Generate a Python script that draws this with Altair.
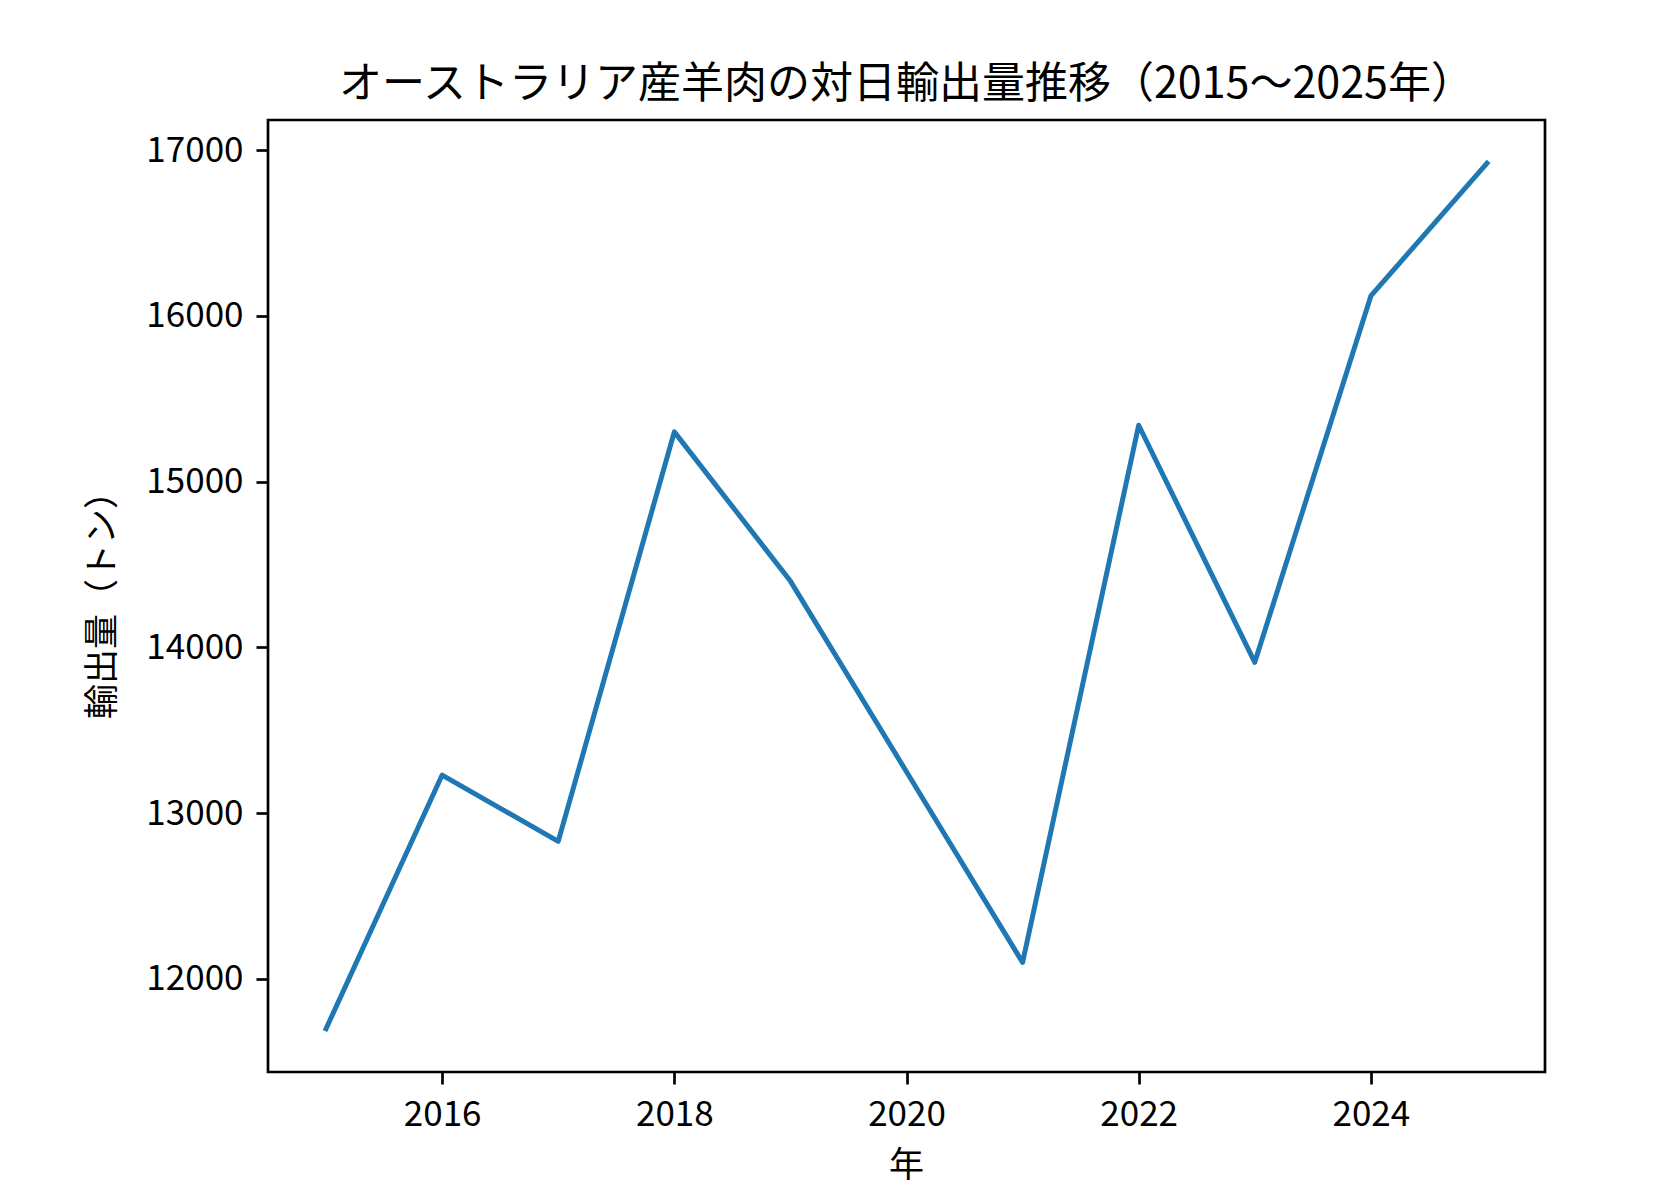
import altair as alt
import pandas as pd

years = [2015, 2016, 2017, 2018, 2019, 2020, 2021, 2022, 2023, 2024, 2025]
volumes = [11700, 13230, 12830, 15300, 14400, 13250, 12100, 15340, 13910, 16120, 16920]
x_ticks = [2016, 2018, 2020, 2022, 2024]
y_ticks = [12000, 13000, 14000, 15000, 16000, 17000]

df = pd.DataFrame({"year": years, "volume": volumes})

ymin, ymax = min(volumes), max(volumes)
ym = (ymax - ymin) * 0.05
xmin, xmax = min(years), max(years)
xm = (xmax - xmin) * 0.05

FONT = "Noto Sans CJK JP"

chart = (
    alt.Chart(df)
    .mark_line(color="#1f77b4", strokeWidth=5, strokeCap="square", strokeJoin="round")
    .encode(
        x=alt.X(
            "year:Q",
            scale=alt.Scale(domain=[xmin - xm, xmax + xm], nice=False, zero=False),
            axis=alt.Axis(
                values=x_ticks,
                format="d",
                title="年",
                titleX=638,
                titleY=93,
                titleBaseline="middle",
                titleAlign="center",
            ),
        ),
        y=alt.Y(
            "volume:Q",
            scale=alt.Scale(domain=[ymin - ym, ymax + ym], nice=False, zero=False),
            axis=alt.Axis(
                values=y_ticks,
                format="d",
                title="輸出量（トン）",
                titleX=-166,
                titleY=476,
                titleBaseline="middle",
                titleAlign="center",
                titleAngle=270,
            ),
        ),
    )
    .properties(
        width=1277,
        height=952,
        title=alt.TitleParams(
            "オーストラリア産羊肉の対日輸出量推移（2015〜2025年）",
            fontSize=43,
            font=FONT,
            fontWeight="normal",
            color="black",
            anchor="middle",
            baseline="alphabetic",
            offset=21,
            dy=42,
        ),
        autosize=alt.AutoSizeParams(type="none"),
        padding={"left": 260, "top": 112, "right": 100, "bottom": 120},
    )
    .configure_view(stroke="black", strokeWidth=2.7)
    .configure_axis(
        domain=False,
        grid=False,
        ticks=True,
        tickColor="black",
        tickWidth=2.7,
        tickSize=12,
        labelFont=FONT,
        labelFontSize=35,
        labelColor="black",
        labelPadding=13,
        titleFont=FONT,
        titleFontSize=35,
        titleFontWeight="normal",
        titleColor="black",
    )
)

chart.save("out.html", embed_options={"renderer": "svg", "actions": False})
